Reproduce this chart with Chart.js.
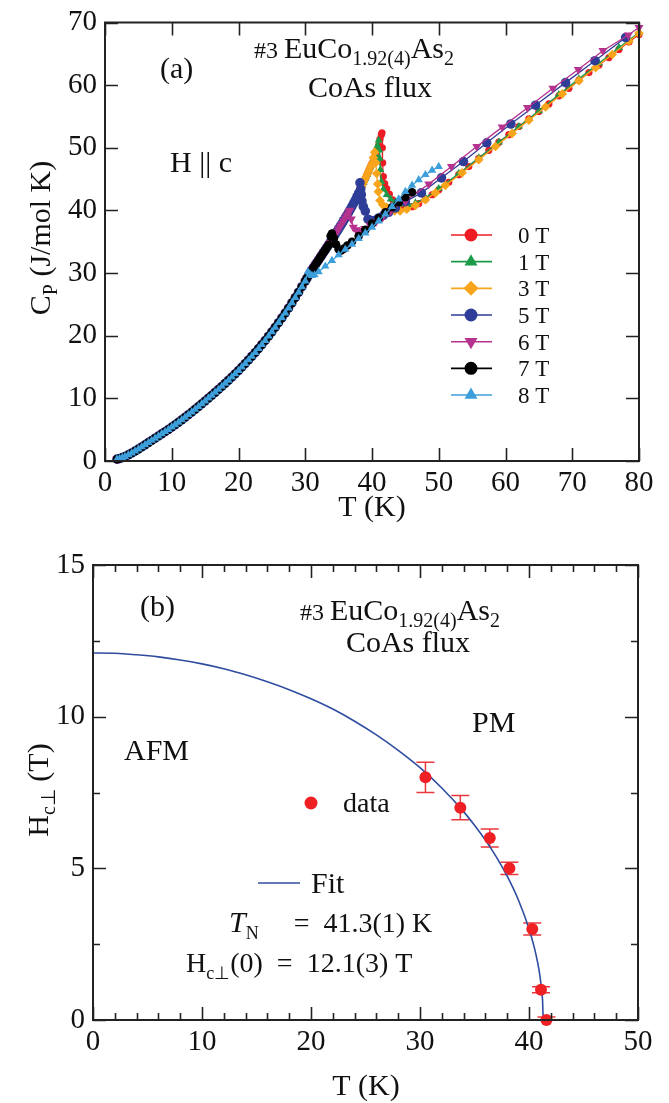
<!DOCTYPE html>
<html>
<head>
<meta charset="utf-8">
<script src="https://cdn.jsdelivr.net/npm/chart.js@4.4.1/dist/chart.umd.min.js"></script>
<style>
  html, body { margin: 0; padding: 0; background: #fff; }
  #wrap { position: relative; width: 669px; height: 1103px; }
  canvas { position: absolute; left: 0; }
  #cpChart { top: 0; }
  #phaseChart { top: 540px; }
</style>
</head>
<body>
<div id="wrap">
  <canvas id="cpChart" width="669" height="540"></canvas>
  <canvas id="phaseChart" width="669" height="563"></canvas>
</div>
<script>
const SERIF = '"Liberation Serif", "Times New Roman", serif';

// ---------- (a) heat capacity, H || c ----------
const fieldLabels = ['0 T', '1 T', '3 T', '5 T', '6 T', '7 T', '8 T'];
const fieldColors = ['#ED1C24', '#1B9A48', '#F8A51C', '#2E3D97', '#B5328E', '#000000', '#3C9FDC'];
const fieldMarkers = ['circle', 'triangle', 'rectRot', 'circle', 'triangle', 'circle', 'triangle'];
const fieldRotation = [0, 0, 0, 0, 180, 0, 0];
const fieldRadius = [3.6, 4.6, 4.8, 4.8, 5.2, 4.3, 4.8];

// common low-temperature curve (all fields overlap here)
const baseT = [1.8, 2.2, 2.6, 3.0, 3.5, 4.0, 4.5, 5.0, 5.5, 6.0, 6.5, 7.0, 7.5, 8.0, 8.5, 9.0, 9.5, 10.0,
  10.5, 11.0, 11.5, 12.0, 12.5, 13.0, 13.5, 14.0, 14.5, 15.0, 15.5, 16.0, 16.5, 17.0, 17.5, 18.0, 18.5,
  19.0, 19.5, 20.0, 20.5, 21.0, 21.5, 22.0, 22.5, 23.0, 23.5, 24.0, 24.5, 25.0, 25.5, 26.0, 26.5, 27.0,
  27.5, 28.0, 28.5, 29.0, 29.5,
  30.0, 30.25, 30.5, 30.75, 31.0, 31.25, 31.5, 31.75, 32.0, 32.25, 32.5, 32.75, 33.0, 33.25, 33.5, 33.75,
  34.0, 34.25, 34.5, 34.75, 35.0, 35.25, 35.5, 35.75, 36.0, 36.25, 36.5, 36.75, 37.0, 37.25, 37.5, 37.75,
  38.0, 38.25, 38.5, 38.75, 39.0, 39.25, 39.5, 39.75, 40.0, 40.25, 40.5, 40.75, 41.0];
const baseCp = [0.30, 0.40, 0.55, 0.72, 0.98, 1.28, 1.58, 1.90, 2.24, 2.58, 2.93, 3.28, 3.63, 3.98, 4.33,
  4.68, 5.03, 5.40, 5.78, 6.17, 6.57, 6.98, 7.39, 7.81, 8.24, 8.68, 9.13, 9.58, 10.03, 10.49, 10.95, 11.42,
  11.90, 12.39, 12.89, 13.40, 13.92, 14.45, 15.00, 15.56, 16.13, 16.72, 17.32, 17.94, 18.58, 19.24, 19.92,
  20.62, 21.34, 22.08, 22.84, 23.62, 24.42, 25.24, 26.08, 26.94, 27.82,
  28.72, 29.17, 29.62, 30.07, 30.50, 30.90, 31.30, 31.70, 32.10, 32.50, 32.90, 33.30, 33.70, 34.10, 34.50,
  34.92, 35.35, 35.78, 36.20, 36.62, 37.05, 37.48, 37.90, 38.35, 38.80, 39.25, 39.70, 40.17, 40.65, 41.15,
  41.65, 42.20, 42.75, 43.32, 43.90, 44.50, 45.10, 45.70, 46.30, 46.90, 47.50, 48.20, 48.90, 49.65, 50.40];
// last temperature of the common curve for each field
const baseCutoff = [41.0, 40.5, 40.0, 38.0, 36.5, 33.5, 30.0];

const t0 = [41.2, 41.4, 41.5, 41.55, 41.6, 41.7, 41.9, 42.2, 42.6, 43.1, 43.7, 44.4, 45.2, 46.0, 47.0, 48.0,
  49.0, 50.0, 51.5, 53.0, 54.5, 56.0, 57.5, 59.0, 60.5, 62.0, 63.5, 65.0, 66.5, 68.0, 69.5, 71.0, 72.5,
  74.0, 75.5, 77.0, 78.5, 80.0];
const cp0 = [51.4, 52.1, 52.4, 50.0, 47.6, 45.4, 44.3, 43.5, 42.6, 41.7, 41.0, 40.7, 40.5, 40.6, 41.1, 41.8,
  42.5, 43.3, 44.5, 45.7, 47.0, 48.3, 49.6, 50.9, 52.1, 53.4, 54.6, 55.8, 57.0, 58.3, 59.5, 60.8, 62.0,
  63.2, 64.4, 65.7, 66.9, 68.1];

const t1 = [40.8, 41.0, 41.1, 41.15, 41.25, 41.4, 41.7, 42.2, 42.8, 43.5, 44.4, 45.4, 46.5, 48.0, 50.0,
  53.0, 56.0, 59.0, 62.0, 65.0, 68.0, 71.0, 74.0, 77.0, 80.0];
const cp1 = [50.3, 51.2, 49.6, 48.3, 46.5, 44.6, 43.4, 42.5, 41.8, 41.3, 41.0, 40.9, 41.2, 42.0, 43.5,
  45.9, 48.4, 50.9, 53.4, 55.9, 58.5, 61.0, 63.5, 66.0, 68.4];

const t3 = [40.2, 40.4, 40.55, 40.7, 40.85, 40.95, 41.2, 41.6, 42.2, 42.8, 43.4, 44.2, 45.2, 46.5, 48.0,
  49.5, 51.0, 53.5, 56.0, 58.5, 61.0, 63.5, 66.0, 68.5, 71.0, 73.5, 76.0, 78.5, 80.0];
const cp3 = [48.4, 49.3, 47.6, 45.9, 44.2, 43.0, 41.6, 40.9, 40.5, 40.1, 39.9, 39.9, 40.2, 40.8, 41.7,
  42.8, 44.0, 46.0, 48.1, 50.2, 52.3, 54.4, 56.5, 58.6, 60.7, 62.8, 64.9, 67.0, 68.3];

const t5 = [38.2, 38.3, 38.4, 38.5, 38.7, 39.0, 39.4, 39.9, 40.4, 41.0, 41.7, 42.5, 43.5, 45.0, 47.4,
  50.4, 53.7, 57.2, 60.8, 64.5, 69.0, 73.4, 78.0];
const cp5 = [44.4, 43.4, 42.5, 41.5, 40.6, 39.9, 38.6, 38.4, 38.4, 38.8, 39.2, 39.7, 40.4, 41.4, 42.8,
  45.2, 47.8, 50.8, 53.8, 56.8, 60.4, 63.9, 67.6];

const t6 = [36.7, 36.9, 37.2, 37.6, 38.2, 38.9, 39.7, 40.6, 41.6, 42.8, 45.0, 48.5, 51.9, 55.7, 59.5,
  63.3, 67.1, 70.9, 74.6, 78.4, 80.0];
const cp6 = [40.0, 38.6, 37.3, 36.9, 36.8, 37.1, 37.6, 38.2, 38.9, 39.9, 41.5, 44.2, 47.0, 50.2, 53.3,
  56.4, 59.5, 62.5, 65.5, 68.0, 69.2];

const t7 = [33.8, 34.0, 34.3, 34.6, 35.0, 35.4, 35.8, 36.3, 37.0, 38.0, 39.0, 40.0, 41.0, 42.0, 43.0,
  44.0, 45.0, 46.0];
const cp7 = [35.9, 36.3, 35.6, 34.6, 33.8, 33.6, 33.9, 34.4, 35.0, 35.9, 36.9, 37.9, 38.8, 39.7, 40.5,
  41.3, 42.1, 42.9];

const t8 = [30.4, 30.7, 31.0, 31.4, 32.0, 33.0, 34.0, 35.0, 36.0, 37.0, 38.0, 39.0, 40.0, 41.0, 42.0,
  43.0, 44.0, 45.0, 46.0, 47.0, 48.0, 49.0, 50.0];
const cp8 = [30.2, 29.8, 29.6, 29.7, 30.2, 31.1, 32.0, 32.9, 33.8, 34.6, 35.5, 36.4, 37.3, 38.3, 39.4,
  40.6, 41.8, 43.0, 44.0, 44.9, 45.7, 46.4, 47.0];

const fieldT = [t0, t1, t3, t5, t6, t7, t8];
const fieldCp = [cp0, cp1, cp3, cp5, cp6, cp7, cp8];

// ---------- (b) phase boundary ----------
const tData = [30.5, 33.7, 36.4, 38.2, 40.3, 41.1, 41.6];
const hData = [8, 7, 6, 5, 3, 1, 0];
const hErr = [0.5, 0.4, 0.3, 0.2, 0.2, 0.1, 0.1];
const fitT = [0, 2, 4, 6, 8, 10, 12, 14, 16, 18, 20, 22, 24, 26, 28, 30, 32, 34, 35, 36, 37, 38, 39, 40,
  40.5, 40.8, 41.0, 41.2, 41.25, 41.3];
const fitH = [12.1, 12.09, 12.04, 11.97, 11.87, 11.74, 11.58, 11.38, 11.15, 10.89, 10.59, 10.25, 9.85,
  9.40, 8.89, 8.32, 7.65, 6.87, 6.42, 5.93, 5.38, 4.74, 3.98, 3.01, 2.37, 1.88, 1.46, 0.84, 0.60, 0];

// draws a run of text pieces: [text, size, dy, italic]
function rich(ctx, x, y, parts, align) {
  const fontOf = p => (p[3] ? 'italic ' : '') + p[1] + 'px ' + SERIF;
  let w = 0;
  parts.forEach(p => { ctx.font = fontOf(p); w += ctx.measureText(p[0]).width; });
  let cx = align === 'center' ? x - w / 2 : x;
  ctx.textAlign = 'left';
  ctx.textBaseline = 'alphabetic';
  parts.forEach(p => {
    ctx.font = fontOf(p);
    ctx.fillText(p[0], cx, y + (p[2] || 0));
    cx += ctx.measureText(p[0]).width;
  });
}

// box with inward ticks on all four sides
function axisFrame(xMajor, xMinor, yMajor, yMinor) {
  return {
    id: 'axisFrame',
    afterDraw(chart) {
      const { ctx, chartArea: a, scales: { x, y } } = chart;
      ctx.save();
      ctx.strokeStyle = '#222';
      ctx.lineWidth = 1.6;
      ctx.beginPath();
      const xt = (step, len) => {
        for (let v = x.min; v <= x.max + 1e-6; v += step) {
          const px = Math.round(x.getPixelForValue(v)) + 0.5;
          ctx.moveTo(px, a.bottom); ctx.lineTo(px, a.bottom - len);
          ctx.moveTo(px, a.top); ctx.lineTo(px, a.top + len);
        }
      };
      const yt = (step, len) => {
        for (let v = y.min; v <= y.max + 1e-6; v += step) {
          const py = Math.round(y.getPixelForValue(v)) + 0.5;
          ctx.moveTo(a.left, py); ctx.lineTo(a.left + len, py);
          ctx.moveTo(a.right, py); ctx.lineTo(a.right - len, py);
        }
      };
      if (xMinor) xt(xMinor, 7);
      if (yMinor) yt(yMinor, 7);
      xt(xMajor, 13);
      yt(yMajor, 13);
      ctx.stroke();
      ctx.lineWidth = 2;
      ctx.strokeRect(a.left, a.top, a.right - a.left, a.bottom - a.top);
      ctx.restore();
    }
  };
}

function axis(min, max, step, size, padding) {
  return {
    type: 'linear', min: min, max: max,
    grid: { display: false, drawTicks: false },
    border: { display: false },
    ticks: { stepSize: step, color: '#111', padding: padding, maxRotation: 0,
             font: { family: SERIF, size: size, lineHeight: 1 } }
  };
}

// ----- chart (a) -----
const cpDatasets = fieldLabels.map((lab, i) => {
  const pts = [];
  baseT.forEach((t, j) => { if (t <= baseCutoff[i]) pts.push({ x: t, y: baseCp[j] }); });
  fieldT[i].forEach((t, j) => pts.push({ x: t, y: fieldCp[i][j] }));
  return {
    label: lab,
    data: pts,
    showLine: true,
    borderColor: fieldColors[i],
    backgroundColor: fieldColors[i],
    borderWidth: 1.3,
    pointStyle: fieldMarkers[i],
    rotation: fieldRotation[i],
    pointRadius: fieldRadius[i],
    pointBorderWidth: 0,
    clip: false,
    order: fieldLabels.length - i
  };
});

const cpLegend = {
  id: 'cpLegend',
  afterDraw(chart) {
    const ctx = chart.ctx;
    ctx.save();
    fieldLabels.forEach((lab, i) => {
      const y = 235 + i * 26.67;
      ctx.strokeStyle = fieldColors[i];
      ctx.fillStyle = fieldColors[i];
      ctx.lineWidth = 1.6;
      ctx.beginPath(); ctx.moveTo(451, y); ctx.lineTo(492, y); ctx.stroke();
      Chart.helpers.drawPoint(ctx, {
        pointStyle: fieldMarkers[i], rotation: fieldRotation[i],
        radius: fieldMarkers[i] === 'circle' ? 6.5 : 7.5, borderWidth: 0
      }, 471, y);
      ctx.fillStyle = '#111';
      rich(ctx, 518, y + 8, [[lab, 23]]);
    });
    ctx.restore();
  }
};

const cpText = {
  id: 'cpText',
  afterDraw(chart) {
    const ctx = chart.ctx;
    ctx.save();
    ctx.fillStyle = '#111';
    rich(ctx, 160, 78, [['(a)', 30]]);
    rich(ctx, 254, 58, [['#3 ', 24], ['EuCo', 30], ['1.92(4)', 20, 7], ['As', 30], ['2', 20, 7]]);
    rich(ctx, 370, 97, [['CoAs flux', 30]], 'center');
    rich(ctx, 170, 172, [['H || c', 30]]);
    rich(ctx, 372, 516, [['T (K)', 30]], 'center');
    ctx.translate(40, 238);
    ctx.rotate(-Math.PI / 2);
    rich(ctx, 0, 10, [['C', 30], ['P', 20, 7], [' (J/mol K)', 30]], 'center');
    ctx.restore();
  }
};

const cpX = axis(0, 80, 10, 29, 8);
cpX.afterFit = s => { s.height = 79; };
const cpY = axis(0, 70, 10, 29, 8);
cpY.afterFit = s => { s.width = 105; };

new Chart(document.getElementById('cpChart'), {
  type: 'scatter',
  data: { datasets: cpDatasets },
  options: {
    responsive: false,
    animation: false,
    layout: { padding: { top: 15, right: 30, left: 0, bottom: 0 } },
    plugins: { legend: { display: false }, tooltip: { enabled: false } },
    scales: { x: cpX, y: cpY }
  },
  plugins: [axisFrame(10, 0, 10, 0), cpLegend, cpText]
});

// ----- chart (b) -----
const errorBars = {
  id: 'errorBars',
  beforeDatasetsDraw(chart) {
    const { ctx, scales: { x, y } } = chart;
    ctx.save();
    ctx.strokeStyle = '#E8383E';
    ctx.lineWidth = 1.5;
    ctx.beginPath();
    tData.forEach((t, i) => {
      const px = x.getPixelForValue(t);
      const top = y.getPixelForValue(hData[i] + hErr[i]);
      const bot = y.getPixelForValue(Math.max(hData[i] - hErr[i], 0));
      ctx.moveTo(px, top); ctx.lineTo(px, bot);
      ctx.moveTo(px - 9, top); ctx.lineTo(px + 9, top);
      if (hData[i] - hErr[i] > 0) { ctx.moveTo(px - 9, bot); ctx.lineTo(px + 9, bot); }
    });
    ctx.stroke();
    ctx.restore();
  }
};

const phaseText = {
  id: 'phaseText',
  afterDraw(chart) {
    const ctx = chart.ctx;
    ctx.save();
    ctx.fillStyle = '#111';
    rich(ctx, 140, 76, [['(b)', 30]]);
    rich(ctx, 300, 80, [['#3 ', 24], ['EuCo', 30], ['1.92(4)', 20, 7], ['As', 30], ['2', 20, 7]]);
    rich(ctx, 408, 112, [['CoAs flux', 30]], 'center');
    rich(ctx, 472, 192, [['PM', 30]]);
    rich(ctx, 124, 220, [['AFM', 30]]);
    // legend
    ctx.fillStyle = '#EE2024';
    ctx.beginPath(); ctx.arc(311, 263, 6.5, 0, Math.PI * 2); ctx.fill();
    ctx.strokeStyle = '#2F4DA0';
    ctx.lineWidth = 1.6;
    ctx.beginPath(); ctx.moveTo(258, 343); ctx.lineTo(300, 343); ctx.stroke();
    ctx.fillStyle = '#111';
    rich(ctx, 343, 272, [['data', 28]]);
    rich(ctx, 311, 353, [['Fit', 30]]);
    rich(ctx, 229, 392, [['T', 30, 0, true], ['N', 18, 7], ['     =  41.3(1) K', 28]]);
    rich(ctx, 186, 432, [['H', 28], ['c\u22a5', 18, 7], ['(0)  =  12.1(3) T', 28]]);
    rich(ctx, 366, 555, [['T (K)', 30]], 'center');
    ctx.translate(38, 250);
    ctx.rotate(-Math.PI / 2);
    rich(ctx, 0, 10, [['H', 30], ['c\u22a5', 20, 7], [' (T)', 30]], 'center');
    ctx.restore();
  }
};

const phX = axis(0, 50, 10, 29, 8);
phX.afterFit = s => { s.height = 83; };
const phY = axis(0, 15, 5, 29, 8);
phY.afterFit = s => { s.width = 93; };

new Chart(document.getElementById('phaseChart'), {
  type: 'scatter',
  data: {
    datasets: [
      {
        label: 'data',
        data: tData.map((t, i) => ({ x: t, y: hData[i] })),
        backgroundColor: '#EE2024',
        pointRadius: 6,
        pointBorderWidth: 0,
        clip: false,
        order: 0
      },
      {
        label: 'Fit',
        data: fitT.map((t, i) => ({ x: t, y: fitH[i] })),
        showLine: true,
        borderColor: '#2F4DA0',
        borderWidth: 1.6,
        pointRadius: 0,
        cubicInterpolationMode: 'monotone',
        order: 1
      }
    ]
  },
  options: {
    responsive: false,
    animation: false,
    layout: { padding: { top: 25, right: 31, left: 0, bottom: 0 } },
    plugins: { legend: { display: false }, tooltip: { enabled: false } },
    scales: { x: phX, y: phY }
  },
  plugins: [errorBars, axisFrame(10, 2, 5, 2.5), phaseText]
});
</script>
</body>
</html>
